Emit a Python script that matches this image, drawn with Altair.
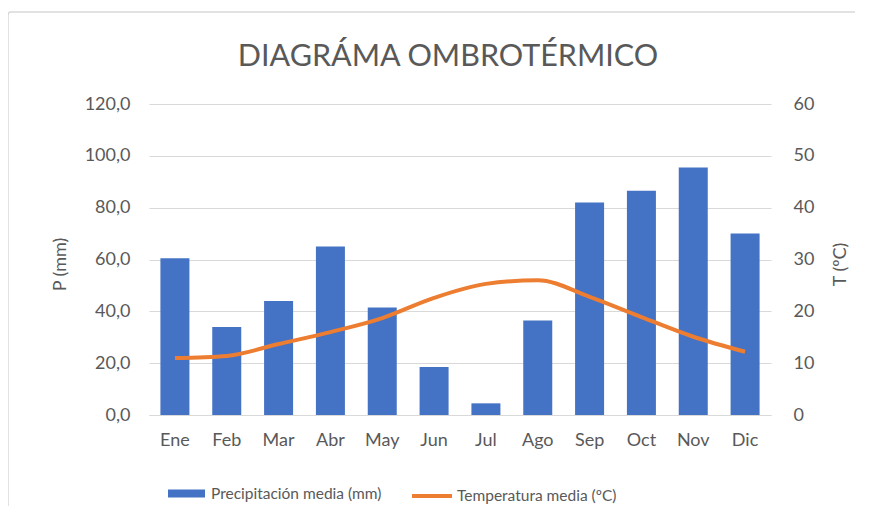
import altair as alt
import pandas as pd

months = ["Ene", "Feb", "Mar", "Abr", "May", "Jun", "Jul", "Ago", "Sep", "Oct", "Nov", "Dic"]
precip = [60.5, 34.0, 44.0, 65.0, 41.5, 18.5, 4.5, 36.5, 82.0, 86.5, 95.5, 70.0]
temp = [11.0, 11.4, 13.7, 16.0, 18.7, 22.6, 25.3, 26.0, 22.8, 18.9, 15.1, 12.2]

TITLE = "DIAGRÁMA OMBROTÉRMICO"
P_LABEL = "Precipitación media (mm)"
T_LABEL = "Temperatura media (ºC)"

df = pd.DataFrame({"mes": months, "precip": precip, "temp": temp,
                   "sp": [P_LABEL] * 12, "st": [T_LABEL] * 12})

FONT = "Lato"
GREY = "#595959"
GRID = "#d9d9d9"

xenc = alt.X("mes:N", sort=months, title=None,
             scale=alt.Scale(paddingInner=0, paddingOuter=0),
             axis=alt.Axis(labelAngle=0, labelFontSize=18, labelColor=GREY, labelFont=FONT,
                           labelPadding=16, ticks=False, domainColor=GRID, grid=False))

one = pd.DataFrame({"t": [TITLE]})

frame = alt.Chart(one).mark_rect(
    fillOpacity=0, stroke=GRID, strokeWidth=1.5, cornerRadius=3
).encode(x=alt.value(-141), x2=alt.value(760), y=alt.value(-92), y2=alt.value(430))

title = alt.Chart(one).mark_text(
    fontSize=30.5, color=GREY, font=FONT, align="center", baseline="alphabetic"
).encode(text="t:N", x=alt.value(299), y=alt.value(-38))

bars = alt.Chart(df).mark_bar(size=29).encode(
    x=xenc,
    y=alt.Y("precip:Q", title="P (mm)",
            scale=alt.Scale(domain=[0, 120]),
            axis=alt.Axis(values=[0, 20, 40, 60, 80, 100, 120],
                          labelExpr="replace(format(datum.value, '.1f'), '.', ',')",
                          labelFontSize=18, labelColor=GREY, labelFont=FONT, labelPadding=19,
                          ticks=False, domain=False, grid=True, gridColor=GRID,
                          titleFontSize=18, titleColor=GREY, titleFont=FONT, titleFontWeight="normal",
                          titleAngle=-90, titleX=-89, titleY=160, titleAlign="center",
                          titleBaseline="middle")),
    color=alt.Color("sp:N", scale=alt.Scale(domain=[P_LABEL], range=["#4472C4"]),
                    legend=alt.Legend(title=None, orient="none", legendX=19, legendY=371,
                                      symbolType="M-1,-0.22H1V0.22H-1Z", symbolSize=1369,
                                      symbolStrokeWidth=0, labelFontSize=15.5, labelColor=GREY,
                                      labelFont=FONT, labelOffset=6, padding=0, labelLimit=400)),
)

line = alt.Chart(df).mark_line(strokeWidth=4, interpolate="monotone").encode(
    x=xenc,
    y=alt.Y("temp:Q", title="T (ºC)",
            scale=alt.Scale(domain=[0, 60]),
            axis=alt.Axis(orient="right", values=[0, 10, 20, 30, 40, 50, 60],
                          labelFontSize=18, labelColor=GREY, labelFont=FONT, labelPadding=22,
                          ticks=False, domain=False, grid=False,
                          titleFontSize=18, titleColor=GREY, titleFont=FONT, titleFontWeight="normal",
                          titleAngle=-90, titleX=69, titleY=160, titleAlign="center",
                          titleBaseline="middle")),
    stroke=alt.Stroke("st:N", scale=alt.Scale(domain=[T_LABEL], range=["#ED7D31"]),
                      legend=alt.Legend(title=None, orient="none", legendX=261, legendY=370,
                                        symbolType="stroke", symbolSize=1600, symbolStrokeWidth=4,
                                        labelFontSize=15.5, labelColor=GREY, labelFont=FONT,
                                        labelOffset=3, padding=0, labelLimit=400)),
)

chart = alt.layer(frame, title, bars, line).resolve_scale(y="independent").properties(
    width=622, height=311,
    autosize=alt.AutoSizeParams(type="none"),
    padding={"left": 141, "top": 96, "right": 84, "bottom": 91},
).configure_view(stroke=None)

chart.save("out.html", embed_options={"renderer": "svg", "actions": False})
